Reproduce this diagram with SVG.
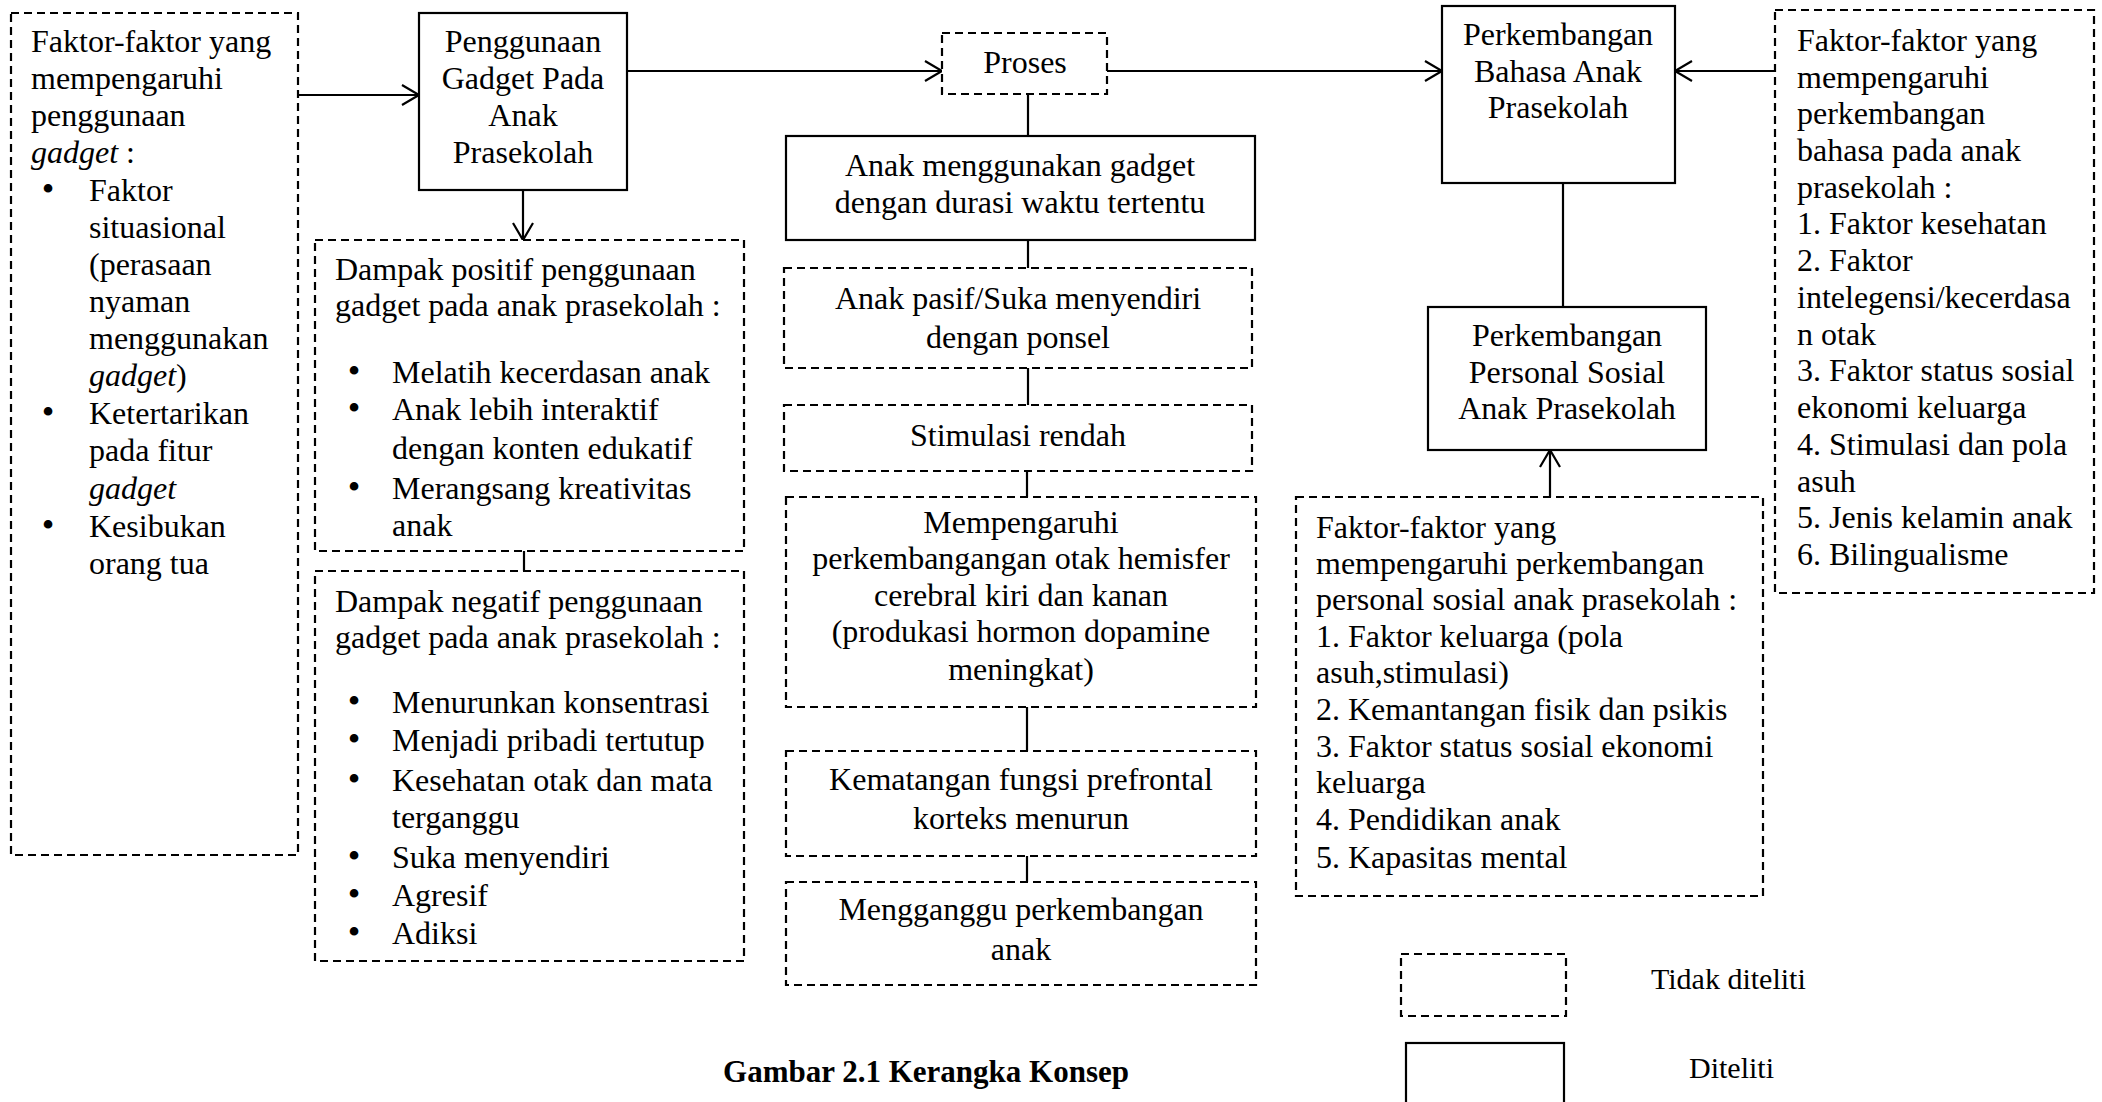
<svg xmlns="http://www.w3.org/2000/svg" width="2102" height="1102" viewBox="0 0 2102 1102">
<style>
text{font-family:"Liberation Serif","Times New Roman",serif;font-size:32px;fill:#000}
.c{text-anchor:middle}
.i{font-style:italic}
.b{text-anchor:middle;font-size:36px}
.solid{fill:#fff;stroke:#000;stroke-width:2.2}
.dash{fill:#fff;stroke:#000;stroke-width:2.2;stroke-dasharray:8 5}
.ln{fill:none;stroke:#000;stroke-width:2.2}
.cap{font-weight:bold;font-size:31px;text-anchor:middle}
.lg{font-size:30px}
</style>
<defs>
<marker id="arr" markerUnits="userSpaceOnUse" markerWidth="22" markerHeight="24" refX="18" refY="11" orient="auto" viewBox="0 0 22 22">
<path d="M1,1 L18,11 L1,21" fill="none" stroke="#000" stroke-width="2.2"/>
</marker>
</defs>
<rect width="2102" height="1102" fill="#fff"/>

<g id="connectors">
<line class="ln" x1="298" y1="95" x2="419" y2="95" marker-end="url(#arr)"/>
<line class="ln" x1="627" y1="71" x2="942" y2="71" marker-end="url(#arr)"/>
<line class="ln" x1="1107" y1="71" x2="1442" y2="71" marker-end="url(#arr)"/>
<line class="ln" x1="1775" y1="71" x2="1675" y2="71" marker-end="url(#arr)"/>
<line class="ln" x1="523" y1="190" x2="523" y2="240" marker-end="url(#arr)"/>
<line class="ln" x1="524" y1="551" x2="524" y2="571"/>
<line class="ln" x1="1028" y1="94" x2="1028" y2="136"/>
<line class="ln" x1="1028" y1="240" x2="1028" y2="268"/>
<line class="ln" x1="1028" y1="368" x2="1028" y2="405"/>
<line class="ln" x1="1027" y1="471" x2="1027" y2="497"/>
<line class="ln" x1="1027" y1="707" x2="1027" y2="751"/>
<line class="ln" x1="1027" y1="856" x2="1027" y2="882"/>
<line class="ln" x1="1563" y1="183" x2="1563" y2="307"/>
<line class="ln" x1="1550" y1="497" x2="1550" y2="450" marker-end="url(#arr)"/>
</g>

<g id="faktor-gadget">
<rect class="dash" x="11" y="13" width="287" height="842"/>
<text x="31" y="52">Faktor-faktor yang</text>
<text x="31" y="89">mempengaruhi</text>
<text x="31" y="126">penggunaan</text>
<text x="31" y="163"><tspan class="i">gadget</tspan> :</text>
<text x="48" y="201" class="b">•</text><text x="89" y="201">Faktor</text>
<text x="89" y="238">situasional</text>
<text x="89" y="275">(perasaan</text>
<text x="89" y="312">nyaman</text>
<text x="89" y="349">menggunakan</text>
<text x="89" y="386"><tspan class="i">gadget</tspan>)</text>
<text x="48" y="424" class="b">•</text><text x="89" y="424">Ketertarikan</text>
<text x="89" y="461">pada fitur</text>
<text x="89" y="499" class="i">gadget</text>
<text x="48" y="537" class="b">•</text><text x="89" y="537">Kesibukan</text>
<text x="89" y="574">orang tua</text>
</g>

<g id="penggunaan-gadget">
<rect class="solid" x="419" y="13" width="208" height="177"/>
<text class="c" x="523" y="52">Penggunaan</text>
<text class="c" x="523" y="89">Gadget Pada</text>
<text class="c" x="523" y="126">Anak</text>
<text class="c" x="523" y="163">Prasekolah</text>
</g>

<g id="dampak-positif">
<rect class="dash" x="315" y="240" width="429" height="311"/>
<text x="335" y="280">Dampak positif penggunaan</text>
<text x="335" y="316">gadget pada anak prasekolah :</text>
<text x="354" y="383" class="b">•</text><text x="392" y="383">Melatih kecerdasan anak</text>
<text x="354" y="420" class="b">•</text><text x="392" y="420">Anak lebih interaktif</text>
<text x="392" y="459">dengan konten edukatif</text>
<text x="354" y="499" class="b">•</text><text x="392" y="499">Merangsang kreativitas</text>
<text x="392" y="536">anak</text>
</g>

<g id="dampak-negatif">
<rect class="dash" x="315" y="571" width="429" height="390"/>
<text x="335" y="612">Dampak negatif penggunaan</text>
<text x="335" y="648">gadget pada anak prasekolah :</text>
<text x="354" y="713" class="b">•</text><text x="392" y="713">Menurunkan konsentrasi</text>
<text x="354" y="751" class="b">•</text><text x="392" y="751">Menjadi pribadi tertutup</text>
<text x="354" y="791" class="b">•</text><text x="392" y="791">Kesehatan otak dan mata</text>
<text x="392" y="828">terganggu</text>
<text x="354" y="868" class="b">•</text><text x="392" y="868">Suka menyendiri</text>
<text x="354" y="906" class="b">•</text><text x="392" y="906">Agresif</text>
<text x="354" y="944" class="b">•</text><text x="392" y="944">Adiksi</text>
</g>

<g id="proses">
<rect class="dash" x="942" y="33" width="165" height="61"/>
<text class="c" x="1025" y="73">Proses</text>
</g>

<g id="anak-menggunakan">
<rect class="solid" x="786" y="136" width="469" height="104"/>
<text class="c" x="1020" y="176">Anak menggunakan gadget</text>
<text class="c" x="1020" y="213">dengan durasi waktu tertentu</text>
</g>

<g id="anak-pasif">
<rect class="dash" x="784" y="268" width="468" height="100"/>
<text class="c" x="1018" y="309">Anak pasif/Suka menyendiri</text>
<text class="c" x="1018" y="348">dengan ponsel</text>
</g>

<g id="stimulasi">
<rect class="dash" x="784" y="405" width="468" height="66"/>
<text class="c" x="1018" y="446">Stimulasi rendah</text>
</g>

<g id="mempengaruhi">
<rect class="dash" x="786" y="497" width="470" height="210"/>
<text class="c" x="1021" y="533">Mempengaruhi</text>
<text class="c" x="1021" y="569">perkembangangan otak hemisfer</text>
<text class="c" x="1021" y="606">cerebral kiri dan kanan</text>
<text class="c" x="1021" y="642">(produkasi hormon dopamine</text>
<text class="c" x="1021" y="680">meningkat)</text>
</g>

<g id="kematangan">
<rect class="dash" x="786" y="751" width="470" height="105"/>
<text class="c" x="1021" y="790">Kematangan fungsi prefrontal</text>
<text class="c" x="1021" y="829">korteks menurun</text>
</g>

<g id="mengganggu">
<rect class="dash" x="786" y="882" width="470" height="103"/>
<text class="c" x="1021" y="920">Mengganggu perkembangan</text>
<text class="c" x="1021" y="960">anak</text>
</g>

<g id="perkembangan-bahasa">
<rect class="solid" x="1442" y="6" width="233" height="177"/>
<text class="c" x="1558" y="45">Perkembangan</text>
<text class="c" x="1558" y="82">Bahasa Anak</text>
<text class="c" x="1558" y="118">Prasekolah</text>
</g>

<g id="faktor-bahasa">
<rect class="dash" x="1775" y="10" width="319" height="583"/>
<text x="1797" y="51">Faktor-faktor yang</text>
<text x="1797" y="88">mempengaruhi</text>
<text x="1797" y="124">perkembangan</text>
<text x="1797" y="161">bahasa pada anak</text>
<text x="1797" y="198">prasekolah :</text>
<text x="1797" y="234">1. Faktor kesehatan</text>
<text x="1797" y="271">2. Faktor</text>
<text x="1797" y="308">intelegensi/kecerdasa</text>
<text x="1797" y="345">n otak</text>
<text x="1797" y="381">3. Faktor status sosial</text>
<text x="1797" y="418">ekonomi keluarga</text>
<text x="1797" y="455">4. Stimulasi dan pola</text>
<text x="1797" y="492">asuh</text>
<text x="1797" y="528">5. Jenis kelamin anak</text>
<text x="1797" y="565">6. Bilingualisme</text>
</g>

<g id="perkembangan-personal">
<rect class="solid" x="1428" y="307" width="278" height="143"/>
<text class="c" x="1567" y="346">Perkembangan</text>
<text class="c" x="1567" y="383">Personal Sosial</text>
<text class="c" x="1567" y="419">Anak Prasekolah</text>
</g>

<g id="faktor-personal">
<rect class="dash" x="1296" y="497" width="467" height="399"/>
<text x="1316" y="538">Faktor-faktor yang</text>
<text x="1316" y="574">mempengaruhi perkembangan</text>
<text x="1316" y="610">personal sosial anak prasekolah :</text>
<text x="1316" y="647">1. Faktor keluarga (pola</text>
<text x="1316" y="683">asuh,stimulasi)</text>
<text x="1316" y="720">2. Kemantangan fisik dan psikis</text>
<text x="1316" y="757">3. Faktor status sosial ekonomi</text>
<text x="1316" y="793">keluarga</text>
<text x="1316" y="830">4. Pendidikan anak</text>
<text x="1316" y="868">5. Kapasitas mental</text>
</g>

<g id="legend">
<rect class="dash" x="1401" y="954" width="165" height="62"/>
<text class="lg" x="1651" y="989">Tidak diteliti</text>
<rect class="solid" x="1406" y="1043" width="158" height="64"/>
<text class="lg" x="1689" y="1078">Diteliti</text>
</g>

<g id="caption">
<text class="cap" x="926" y="1082">Gambar 2.1 Kerangka Konsep</text>
</g>
</svg>
